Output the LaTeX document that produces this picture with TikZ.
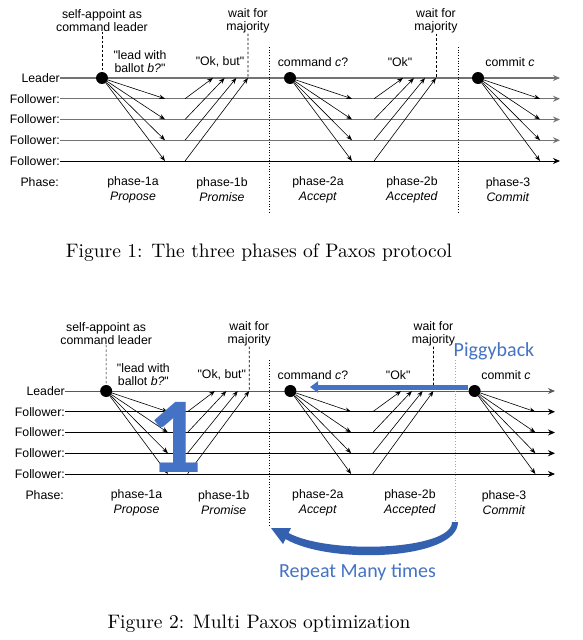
\documentclass[tikz,border=0pt]{standalone}
\usepackage{fontspec}
\usetikzlibrary{positioning, arrows.meta}
\newfontfamily\helv{Liberation Sans}
\newfontfamily\calib{Carlito}
\newfontfamily\capfont{lmroman10-regular}[Extension=.otf]
\definecolor{ppblue}{RGB}{68,114,196}
\definecolor{ppdark}{RGB}{52,96,176}
\tikzset{
    base/.style={font=\helv\fontsize{12.3}{13.5}\selectfont, align=center, inner sep=0pt},
    rowlabel/.style={base, anchor=east},
    phaselabel/.style={base, font=\helv\fontsize{12.3}{15}\selectfont},
    tip/.style={-{Stealth[length=7pt, width=6pt]}},
    leadline/.style={tip, draw=gray!90!black, line width=1.4pt},
    rowline/.style={tip, draw=gray!90!black, line width=1.4pt},
    lastline/.style={tip, draw=black, line width=0.8pt},
    msg/.style={-{Stealth[length=6pt, width=4.5pt]}, line width=0.6pt},
    dot/.style={circle, fill=black, minimum size=12pt, inner sep=0pt},
    wait/.style={draw, dash pattern=on 2.5pt off 2pt, line width=0.6pt},
    sepline/.style={draw, dotted, line width=0.7pt},
    sepline2/.style={sepline},
    caption/.style={font=\capfont\fontsize{19.5}{22}\selectfont, inner sep=0pt, anchor=base},
    bluetext/.style={font=\calib\fontsize{20}{24}\selectfont, text=ppblue, inner sep=0pt},
    pigarrow/.style={draw=ppblue, line width=5pt, -{Triangle[length=8pt, width=11pt]}}
}

% one copy of the three-phase diagram, #1 = name prefix
\newcommand{\paxosphases}[1]{%
    % rows
    \node [rowlabel] (#1-L) at (60, 78) {Leader};
    \node [rowlabel] (#1-ph) at (59, 182) {Phase:};
    \coordinate (#1-LE) at (560, 78);
    \draw [leadline] (#1-L.east) -- (#1-LE);
    \foreach \i/\sty in {1/rowline, 2/rowline, 3/rowline, 4/lastline} {
        \node [rowlabel] (#1-F\i) at (60, 78+20.75*\i) {Follower:};
        \coordinate (#1-E\i) at (560, 78+20.75*\i);
        \draw [\sty] (#1-F\i.east) -- (#1-E\i);
    }
    % phase separators
    \coordinate (#1-s1t) at (269, 47);
    \coordinate (#1-s1b) at (269, 212);
    \coordinate (#1-s2t) at (458, 47);
    \coordinate (#1-s2b) at (458, 212);
    \draw [sepline] (#1-s1t) -- (#1-s1b);
    \draw [sepline2] (#1-s2t) -- (#1-s2b);
    % leader dots
    \node [dot] (#1-d1) at (102, 78) {};
    \node [dot] (#1-d2) at (290, 78) {};
    \node [dot] (#1-d3) at (478, 78) {};
    % messages
    \foreach \i in {1,...,4} {
        \coordinate (#1-a\i) at (165, 78+20.75*\i);
        \coordinate (#1-b\i) at (185, 78+20.75*\i);
        \coordinate (#1-B\i) at (201.3+11.67*\i, 78);
        \coordinate (#1-c\i) at (352, 78+20.75*\i);
        \coordinate (#1-e\i) at (374, 78+20.75*\i);
        \coordinate (#1-C\i) at (392+11*\i, 78);
        \coordinate (#1-g\i) at (540, 78+20.75*\i);
        \draw [msg] (#1-d1) -- (#1-a\i);
        \draw [msg] (#1-b\i) -- (#1-B\i);
        \draw [msg] (#1-d2) -- (#1-c\i);
        \draw [msg] (#1-e\i) -- (#1-C\i);
        \draw [msg] (#1-d3) -- (#1-g\i);
    }
    % notes
    \node [base] (#1-self) at (102, 20.5) {self-appoint as\\command leader};
    \node [base] (#1-wait1) at (248, 21) {wait for\\majority};
    \node [base] (#1-wait2) at (436, 21) {wait for\\majority};
    \draw [wait] (#1-self) -- (#1-d1);
    \draw [wait] (#1-wait1) -- (#1-B4);
    \draw [wait] (#1-wait2) -- (#1-C4);
    \node [base] (#1-lead) at (140, 61.5) {"lead with\\ballot \textit{b?}"};
    \node [base] (#1-okb) at (220, 62) {"Ok, but"};
    \node [base] (#1-cmd) at (313, 62) {command \textit{c}?};
    \node [base] (#1-ok) at (400, 62) {"Ok"};
    \node [base] (#1-com) at (510, 62) {commit \textit{c}};
    % phase names
    \node [phaselabel] (#1-p1a) at (133, 189.5) {phase-1a\\\textit{Propose}};
    \node [phaselabel] (#1-p1b) at (222, 189.5) {phase-1b\\\textit{Promise}};
    \node [phaselabel] (#1-p2a) at (318, 189.5) {phase-2a\\\textit{Accept}};
    \node [phaselabel] (#1-p2b) at (412, 189.5) {phase-2b\\\textit{Accepted}};
    \node [phaselabel] (#1-p3) at (508, 189.5) {phase-3\\\textit{Commit}};
}

\begin{document}
\begin{tikzpicture}[x=1pt, y=-1pt]
    \useasboundingbox (0,0) rectangle (582,640);

    % Figure 1
    \paxosphases{one}
    \node [caption] (cap1) at (259, 257) {Figure 1: The three phases of Paxos protocol};

    % Figure 2
    \begin{scope}[shift={(6.2,313)}, xscale=0.98,
        leadline/.style={tip, draw=gray!70!black, line width=1pt},
        rowline/.style={lastline},
        sepline2/.style={draw=gray!70, dotted, line width=0.8pt}]
        \paxosphases{two}
    \end{scope}

    \node [font=\calib\bfseries\fontsize{108}{108}\selectfont, text=ppblue,
        anchor=base, inner sep=0pt] (bigone) at (175, 472) {1};

    \coordinate (pigtip) at (310, 387);
    \draw [pigarrow] (two-d3.west |- pigtip) -- (pigtip);
    \node [bluetext] (piggy) at (494, 351) {Piggyback};

    % curved repeat arrow
    \fill [ppdark] (452,522) .. controls (452,550) and (330,555) .. (288.5,533)
        -- (291,528) -- (271,528) -- (283,544) -- (285.5,539)
        .. controls (330,565) and (458,560) .. (458,522) -- cycle;
    \node [bluetext] (repeat) at (357.5, 572) {Repeat Many times};

    \node [caption] (cap2) at (259, 628) {Figure 2: Multi Paxos optimization};
\end{tikzpicture}
\end{document}
